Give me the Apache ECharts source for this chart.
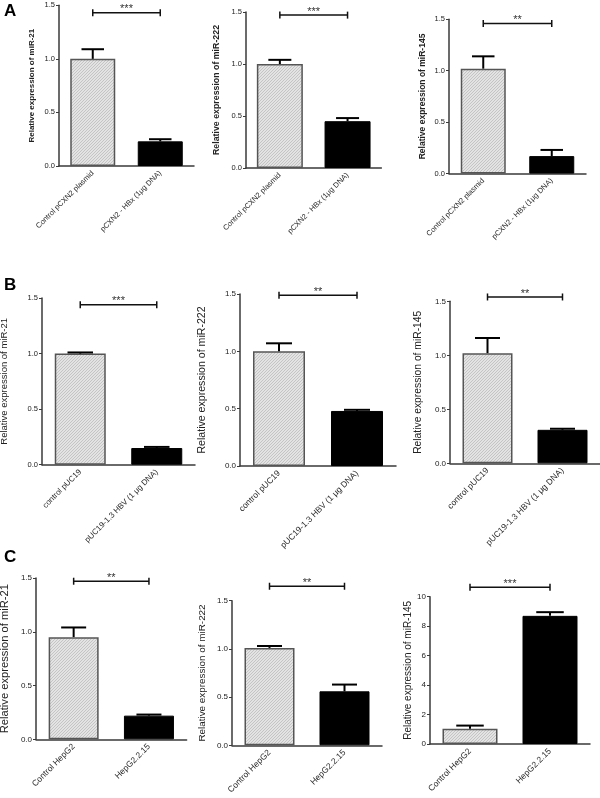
<!DOCTYPE html>
<html>
<head>
<meta charset="utf-8">
<script src="https://cdn.jsdelivr.net/npm/echarts@6/dist/echarts.min.js"></script>
<style>
html,body{margin:0;padding:0;background:#fff;}
#main{width:600px;height:798px;}
</style>
</head>
<body>
<div id="main"></div>
<script>
// ---------- data ----------
const panelLetters = ['A', 'B', 'C'];
const catsA = ['Control pCXN2 plasmid', 'pCXN2 - HBx (1μg DNA)'];
const catsB = ['control pUC19', 'pUC19-1.3 HBV (1 μg DNA)'];
const catsC = ['Control HepG2', 'HepG2.2.15'];
const yNames = ['Relative expression of miR-21', 'Relative expression of miR-222', 'Relative expression of miR-145'];
// mean values per panel (row-major: A1,A2,A3,B1,B2,B3,C1,C2,C3)
const meansA = [[1.0, 0.23], [1.0, 0.45], [1.02, 0.17]];
const meansB = [[1.0, 0.15], [1.0, 0.48], [1.02, 0.31]];
const meansC = [[0.95, 0.22], [1.01, 0.56], [1.03, 8.7]];
// upper error (SEM) per panel
const semA = [[0.09, 0.02], [0.04, 0.03], [0.12, 0.06]];
const semB = [[0.01, 0.01], [0.07, 0.01], [0.14, 0.01]];
const semC = [[0.09, 0.01], [0.02, 0.07], [0.22, 0.25]];
const starsA = ['***', '***', '**'];
const starsB = ['***', '**', '**'];
const starsC = ['**', '**', '***'];
const bracketA = [1.43, 1.47, 1.46];
const bracketB = [1.44, 1.49, 1.54];
const bracketC = [1.47, 1.65, 10.64];
const yMaxA = [1.5, 1.5, 1.5];
const yMaxB = [1.5, 1.5, 1.5];
const yMaxC = [1.5, 1.5, 10];
const yStepA = [0.5, 0.5, 0.5];
const yStepB = [0.5, 0.5, 0.5];
const yStepC = [0.5, 0.5, 2];

// ---------- layout ----------
const layout = [
  {left: 59, top: 5.3, width: 135, height: 160.7, barW: 45, nameGap: 23, nameSize: 8, nameBold: true, catSize: 7.5, tickSize: 7.5},
  {left: 246, top: 12, width: 135.4, height: 156, barW: 46, nameGap: 25, nameSize: 8.8, nameBold: true, catSize: 7.5, tickSize: 7.5},
  {left: 449, top: 19.3, width: 137, height: 154.3, barW: 45, nameGap: 22, nameSize: 8.5, nameBold: true, catSize: 7.5, tickSize: 7.5},
  {left: 42, top: 298, width: 153, height: 166.7, barW: 51, nameGap: 33, nameSize: 9.5, nameBold: false, catSize: 8, tickSize: 7.5},
  {left: 240, top: 294, width: 156, height: 172, barW: 52, nameGap: 32, nameSize: 10.6, nameBold: false, catSize: 8.5, tickSize: 8},
  {left: 450, top: 301.3, width: 150, height: 162, barW: 50, nameGap: 27, nameSize: 10.3, nameBold: false, catSize: 8.5, tickSize: 8},
  {left: 36, top: 578, width: 150.6, height: 161.3, barW: 50, nameGap: 26, nameSize: 11.2, nameBold: false, catSize: 8.5, tickSize: 8},
  {left: 232, top: 600.7, width: 150, height: 144.6, barW: 50, nameGap: 25, nameSize: 9.9, nameBold: false, catSize: 8.5, tickSize: 8},
  {left: 430, top: 596.7, width: 160, height: 147.3, barW: 55, nameGap: 17, nameSize: 10, nameBold: false, catSize: 8.5, tickSize: 8}
];
const letterPos = [{left: 4, top: 3}, {left: 4, top: 277}, {left: 4, top: 549}];

// ---------- build panels ----------
const rows = [
  {cats: catsA, means: meansA, sem: semA, stars: starsA, bracket: bracketA, yMax: yMaxA, yStep: yStepA},
  {cats: catsB, means: meansB, sem: semB, stars: starsB, bracket: bracketB, yMax: yMaxB, yStep: yStepB},
  {cats: catsC, means: meansC, sem: semC, stars: starsC, bracket: bracketC, yMax: yMaxC, yStep: yStepC}
];

// dotted light-grey pattern fill
const pc = document.createElement('canvas');
pc.width = 3; pc.height = 3;
const pctx = pc.getContext('2d');
pctx.fillStyle = '#e3e3e3'; pctx.fillRect(0, 0, 3, 3);
pctx.fillStyle = '#c4c4c4'; pctx.fillRect(0, 0, 1, 1); pctx.fillRect(2, 1, 1, 1); pctx.fillRect(1, 2, 1, 1);
const patternFill = {image: pc, repeat: 'repeat'};

const FONT = 'Liberation Sans, Arial, sans-serif';
const AX = '#3a3a3a';

const grids = [], xAxes = [], yAxes = [], series = [];
for (let r = 0; r < 3; r++) {
  for (let c = 0; c < 3; c++) {
    const i = r * 3 + c;
    const L = layout[i];
    const row = rows[r];
    grids.push({left: L.left, top: L.top, width: L.width, height: L.height, containLabel: false, outerBoundsMode: 'none'});
    xAxes.push({
      gridIndex: i, type: 'category', data: row.cats,
      axisLine: {lineStyle: {color: AX, width: 1.5}},
      axisTick: {alignWithLabel: true, length: 3, lineStyle: {color: AX}},
      axisLabel: {rotate: 45, fontSize: L.catSize, color: '#2a2a2a', fontFamily: FONT, margin: 6, interval: 0}
    });
    const step = row.yStep[c];
    yAxes.push({
      gridIndex: i, type: 'value', min: 0, max: row.yMax[c], interval: step,
      name: yNames[c], nameLocation: 'middle', nameRotate: 90, nameGap: L.nameGap,
      nameTextStyle: {fontSize: L.nameSize, color: '#222', fontFamily: FONT, fontWeight: L.nameBold ? 'bold' : 'normal'},
      axisLine: {show: true, lineStyle: {color: AX, width: 1.5}},
      axisTick: {show: true, length: 3, lineStyle: {color: AX}},
      splitLine: {show: false},
      axisLabel: {fontSize: L.tickSize, color: '#222', fontFamily: FONT, margin: 4,
        formatter: v => step < 1 ? v.toFixed(1) : String(v)}
    });
    const m = row.means[c], s = row.sem[c];
    series.push({
      type: 'bar', xAxisIndex: i, yAxisIndex: i, barWidth: L.barW, silent: true,
      data: [
        {value: m[0], itemStyle: {color: patternFill, borderColor: '#555', borderWidth: 1.5}},
        {value: m[1], itemStyle: {color: '#000', borderColor: '#000', borderWidth: 1}}
      ],
      z: 2
    });
    const capHalf = L.barW / 4;
    series.push({
      type: 'custom', xAxisIndex: i, yAxisIndex: i, silent: true, z: 3,
      data: [[0, m[0], s[0]], [1, m[1], s[1]]],
      renderItem: (params, api) => {
        const x = api.value(0), mv = api.value(1), ev = api.value(2);
        const p0 = api.coord([x, mv]);
        const p1 = api.coord([x, mv + ev]);
        return {type: 'group', children: [
          {type: 'line', shape: {x1: p0[0], y1: p0[1], x2: p1[0], y2: p1[1]}, style: {stroke: '#000', lineWidth: 2}},
          {type: 'line', shape: {x1: p1[0] - capHalf, y1: p1[1], x2: p1[0] + capHalf, y2: p1[1]}, style: {stroke: '#000', lineWidth: 2}}
        ]};
      }
    });
    series.push({
      type: 'custom', xAxisIndex: i, yAxisIndex: i, silent: true, z: 4, clip: false,
      data: [[0, row.bracket[c]]],
      renderItem: (params, api) => {
        const yv = api.value(1);
        const a = api.coord([0, yv]);
        const b = api.coord([1, yv]);
        const st = row.stars[c];
        return {type: 'group', children: [
          {type: 'line', shape: {x1: a[0], y1: a[1], x2: b[0], y2: b[1]}, style: {stroke: '#111', lineWidth: 1.5}},
          {type: 'line', shape: {x1: a[0], y1: a[1] - 3.5, x2: a[0], y2: a[1] + 3.5}, style: {stroke: '#111', lineWidth: 1.5}},
          {type: 'line', shape: {x1: b[0], y1: b[1] - 3.5, x2: b[0], y2: b[1] + 3.5}, style: {stroke: '#111', lineWidth: 1.5}},
          {type: 'text', x: (a[0] + b[0]) / 2, y: a[1] + 2,
            style: {text: st, fontSize: 11, fill: '#333', fontFamily: FONT, align: 'center', verticalAlign: 'bottom'}}
        ]};
      }
    });
  }
}

const graphics = panelLetters.map((t, k) => ({
  type: 'text', left: letterPos[k].left, top: letterPos[k].top,
  style: {text: t, fontSize: 17, fontWeight: 'bold', fill: '#000', fontFamily: FONT}
}));

const chart = echarts.init(document.getElementById('main'), null, {renderer: 'canvas'});
chart.setOption({
  animation: false,
  backgroundColor: '#fff',
  grid: grids, xAxis: xAxes, yAxis: yAxes, series: series,
  graphic: graphics
});
</script>
</body>
</html>
